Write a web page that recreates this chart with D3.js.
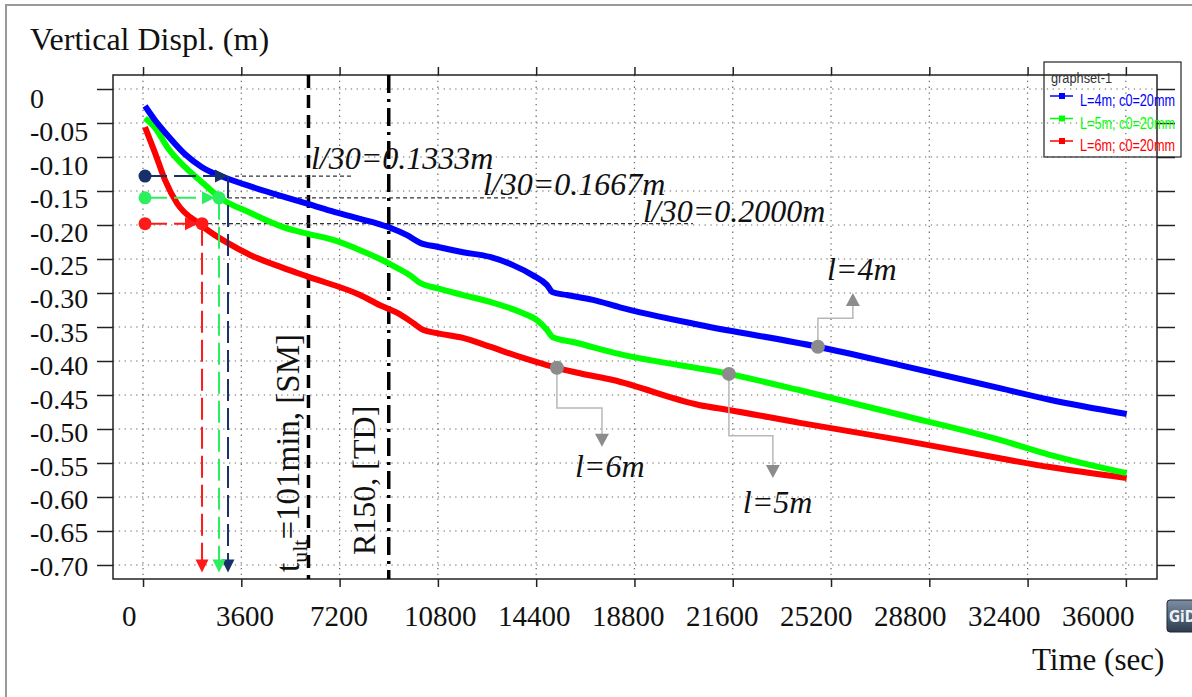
<!DOCTYPE html>
<html>
<head>
<meta charset="utf-8">
<script src="https://cdn.jsdelivr.net/npm/d3@7"></script>
<style>
  body { margin: 0; background: #fff; }
  svg { display: block; }
</style>
</head>
<body>
<svg width="1192" height="697"></svg>
<script>
// ---- data ----
const timeTicks = [0, 3600, 7200, 10800, 14400, 18000, 21600, 25200, 28800, 32400, 36000];
const timeLabels = ["0", "3600", "7200", "10800", "14400", "18800", "21600", "25200", "28800", "32400", "36000"];
const displTicks = [0, -0.05, -0.10, -0.15, -0.20, -0.25, -0.30, -0.35, -0.40, -0.45, -0.50, -0.55, -0.60, -0.65, -0.70];
const displLabels = ["0", "-0.05", "-0.10", "-0.15", "-0.20", "-0.25", "-0.30", "-0.35", "-0.40", "-0.45", "-0.50", "-0.55", "-0.60", "-0.65", "-0.70"];

const seriesNames = ["L=4m; c0=20mm", "L=5m; c0=20mm", "L=6m; c0=20mm"];

// [time (sec), vertical displacement (m)]
const l4m = [[73,-0.025],[439,-0.046],[916,-0.069],[1540,-0.096],[2160,-0.115],[3110,-0.132],[3990,-0.144],
  [5200,-0.159],[6040,-0.169],[7030,-0.181],[7950,-0.191],[8680,-0.199],[9050,-0.204],[9670,-0.215],
  [10140,-0.226],[10770,-0.232],[11720,-0.240],[12710,-0.247],[13550,-0.259],[14280,-0.274],[14790,-0.288],
  [15010,-0.299],[15530,-0.303],[16480,-0.310],[17470,-0.321],[20400,-0.347],[24720,-0.379],[27720,-0.406],
  [31380,-0.440],[33210,-0.457],[36030,-0.478]];
const l5m = [[73,-0.043],[439,-0.057],[916,-0.087],[1540,-0.115],[2160,-0.137],[2820,-0.160],[3920,-0.182],
  [5130,-0.203],[6040,-0.213],[6960,-0.222],[7950,-0.237],[8680,-0.250],[9300,-0.263],[9780,-0.274],
  [10140,-0.285],[10770,-0.293],[11720,-0.303],[12710,-0.313],[13810,-0.328],[14430,-0.340],[14790,-0.354],
  [15010,-0.365],[15750,-0.372],[17470,-0.390],[21460,-0.419],[24060,-0.443],[27720,-0.479],[31380,-0.516],
  [33210,-0.538],[36030,-0.565]];
const l6m = [[73,-0.056],[439,-0.094],[806,-0.134],[1245,-0.168],[2090,-0.199],[2450,-0.210],[3080,-0.226],
  [3920,-0.244],[5130,-0.263],[6040,-0.276],[7950,-0.303],[8680,-0.318],[9300,-0.329],[9890,-0.344],
  [10250,-0.354],[10770,-0.359],[11720,-0.366],[12710,-0.379],[13810,-0.394],[14790,-0.406],[15160,-0.410],
  [16000,-0.418],[17210,-0.428],[20400,-0.465],[21460,-0.472],[24060,-0.491],[27720,-0.516],[31380,-0.543],
  [33210,-0.556],[36030,-0.572]];

const seriesColors = ["#0000ff", "#00ff00", "#ff0000"];

// l/30 criteria: reached displacement, arrow hit time, text anchor
const criteria = [
  {label: "l/30=0.1333m", v: -0.128, hit: 3113, lineFrom: 3369, lineTo: 7654, textT: 6150, textV: -0.1176, color: "#17306a", ring: false},
  {label: "l/30=0.1667m", v: -0.160, hit: 2783, lineFrom: 3113, lineTo: 13733, textT: 12451, textV: -0.156, color: "#2bef5f", ring: true},
  {label: "l/30=0.2000m", v: -0.198, hit: 2161, lineFrom: 2380, lineTo: 20141, textT: 18310, textV: -0.1956, color: "#ff1a1a", ring: true}
];
const critStart = 73;
const critBottom = -0.711;

// gray callouts
const callouts = [
  {label: "l=6m", dot: [15160, -0.410], bendV: -0.469, bendT: 16810, tipV: -0.526, textT: 15820, textV: -0.571},
  {label: "l=5m", dot: [21460, -0.419], bendV: -0.510, bendT: 23070, tipV: -0.572, textT: 21970, textV: -0.624},
  {label: "l=4m", dot: [24720, -0.379], bendV: -0.337, bendT: 26000, tipV: -0.300, textT: 25050, textV: -0.281}
];

const tUlt = 6060;   // 101 min
const tR150 = 9000;  // 150 min

// ---- chart ----
const svg = d3.select("svg");
const serif = "'Liberation Serif', 'Times New Roman', serif";
const sans = "'Liberation Sans', Arial, sans-serif";

const x = d3.scaleLinear().domain([-1100, 37140]).range([113, 1157]);
const y = d3.scaleLinear().domain([0.0206, -0.7206]).range([75, 579]);
const xLab = d3.scaleLinear().domain([0, timeLabels.length - 1]).range([122, 1062]);
const yLab = d3.scaleLinear().domain([0, displLabels.length - 1]).range([98, 566]);

// outer frame
svg.append("rect").attr("x", 6).attr("y", 5).attr("width", 1200).attr("height", 700)
  .attr("fill", "none").attr("stroke", "#9a9a9a").attr("stroke-width", 2);

// grid
const grid = svg.append("g").attr("stroke", "#666").attr("stroke-width", 1.2).attr("stroke-dasharray", "1.3,4.5");
grid.selectAll(".gx").data(timeTicks).enter().append("line")
  .attr("x1", d => x(d)).attr("x2", d => x(d)).attr("y1", 75).attr("y2", 579);
grid.selectAll(".gy").data(displTicks).enter().append("line")
  .attr("x1", 113).attr("x2", 1157).attr("y1", d => y(d)).attr("y2", d => y(d));

// axes (ticks only)
function ticksOnly(g) {
  g.select(".domain").remove();
  g.selectAll("text").remove();
  g.selectAll("line").attr("stroke", "#222").attr("stroke-width", 1.5);
}
svg.append("g").attr("transform", "translate(113,0)")
  .call(d3.axisLeft(y).tickValues(displTicks).tickSize(16)).call(ticksOnly);
svg.append("g").attr("transform", "translate(1157,0)")
  .call(d3.axisRight(y).tickValues(displTicks).tickSize(18)).call(ticksOnly);
svg.append("g").attr("transform", "translate(0,75)")
  .call(d3.axisTop(x).tickValues(timeTicks).tickSize(8)).call(ticksOnly);
svg.append("g").attr("transform", "translate(0,579)")
  .call(d3.axisBottom(x).tickValues(timeTicks).tickSize(8)).call(ticksOnly);

svg.append("rect").attr("x", 113).attr("y", 75).attr("width", 1157 - 113).attr("height", 579 - 75)
  .attr("fill", "none").attr("stroke", "#222").attr("stroke-width", 1.5);

// tick labels
svg.append("g").selectAll("text").data(displLabels).enter().append("text")
  .attr("x", 30).attr("y", (d, i) => yLab(i)).attr("dy", "0.35em")
  .attr("font-family", serif).attr("font-size", 28).attr("fill", "#111")
  .text(d => d);
svg.append("g").selectAll("text").data(timeLabels).enter().append("text")
  .attr("x", (d, i) => xLab(i)).attr("y", 626)
  .attr("font-family", serif).attr("font-size", 29).attr("fill", "#111")
  .text(d => d);

// axis titles
svg.append("text").attr("x", 30).attr("y", 50).attr("font-family", serif).attr("font-size", 32)
  .attr("fill", "#111").text("Vertical Displ. (m)");
svg.append("text").attr("x", 1032).attr("y", 670).attr("font-family", serif).attr("font-size", 31)
  .attr("fill", "#111").text("Time (sec)");

// vertical reference lines
svg.append("line").attr("x1", x(tUlt)).attr("x2", x(tUlt)).attr("y1", 75).attr("y2", 579)
  .attr("stroke", "#000").attr("stroke-width", 3.5).attr("stroke-dasharray", "13,7");
svg.append("line").attr("x1", x(tR150)).attr("x2", x(tR150)).attr("y1", 75).attr("y2", 579)
  .attr("stroke", "#000").attr("stroke-width", 3.5).attr("stroke-dasharray", "18,6,3,6");

const tult = svg.append("text")
  .attr("transform", `translate(${x(tUlt) - 9},572) rotate(-90)`)
  .attr("font-family", serif).attr("font-size", 33).attr("fill", "#111");
tult.append("tspan").text("t");
tult.append("tspan").attr("font-size", 22).attr("dy", 8).text("ult");
tult.append("tspan").attr("dy", -8).text("=101min, [SM]");

svg.append("text")
  .attr("transform", `translate(${x(tR150) - 14},555) rotate(-90)`)
  .attr("font-family", serif).attr("font-size", 32).attr("fill", "#111")
  .text("R150, [TD]");

// criterion threshold lines (thin dashed black)
svg.append("g").selectAll("line").data(criteria).enter().append("line")
  .attr("x1", d => x(d.lineFrom)).attr("x2", d => x(d.lineTo))
  .attr("y1", d => y(d.v)).attr("y2", d => y(d.v))
  .attr("stroke", "#333").attr("stroke-width", 1.2).attr("stroke-dasharray", "4,3");

// curves
const line = d3.line().x(d => x(d[0])).y(d => y(d[1])).curve(d3.curveMonotoneX);
const seriesData = [l4m, l5m, l6m];
svg.append("g").selectAll("path").data(seriesData.slice().reverse()).enter().append("path")
  .attr("d", line).attr("fill", "none")
  .attr("stroke", (d, i) => seriesColors.slice().reverse()[i])
  .attr("stroke-width", 6).attr("stroke-linejoin", "round");

// arrow helper
function arrowHead(g, tx, ty, dir, color, len, half) {
  let pts;
  if (dir === "right") pts = [[tx, ty], [tx - len, ty - half], [tx - len, ty + half]];
  else if (dir === "down") pts = [[tx, ty], [tx - half, ty - len], [tx + half, ty - len]];
  else pts = [[tx, ty], [tx - half, ty + len], [tx + half, ty + len]];
  g.append("polygon").attr("points", pts.map(p => p.join(",")).join(" ")).attr("fill", color);
}

// criterion arrows
criteria.forEach(c => {
  const g = svg.append("g");
  const tipX = c.ring ? x(c.hit) - 4 : x(c.hit);
  g.append("line").attr("x1", x(critStart)).attr("x2", tipX - 8).attr("y1", y(c.v)).attr("y2", y(c.v))
    .attr("stroke", c.color).attr("stroke-width", 2).attr("stroke-dasharray", "22,7");
  arrowHead(g, tipX, y(c.v), "right", c.color, 13, 6.5);
  g.append("line").attr("x1", x(c.hit)).attr("x2", x(c.hit)).attr("y1", y(c.v)).attr("y2", y(critBottom) - 10)
    .attr("stroke", c.color).attr("stroke-width", 2).attr("stroke-dasharray", "22,7");
  arrowHead(g, x(c.hit), y(critBottom), "down", c.color, 13, 6.5);
  g.append("circle").attr("cx", x(critStart)).attr("cy", y(c.v)).attr("r", 6.5).attr("fill", c.color);
  if (c.ring) g.append("circle").attr("cx", x(c.hit)).attr("cy", y(c.v)).attr("r", 6.5).attr("fill", c.color);
  svg.append("text").attr("x", x(c.textT)).attr("y", y(c.textV))
    .attr("font-family", serif).attr("font-style", "italic").attr("font-size", 32).attr("fill", "#111")
    .text(c.label);
});

// gray callouts
callouts.forEach(c => {
  const g = svg.append("g");
  const up = c.tipV > c.dot[1];
  const headBase = y(c.tipV) + (up ? 12 : -12);
  g.append("path")
    .attr("d", `M${x(c.dot[0])},${y(c.dot[1])}V${y(c.bendV)}H${x(c.bendT)}V${headBase}`)
    .attr("fill", "none").attr("stroke", "#b8b8b8").attr("stroke-width", 1.5);
  arrowHead(g, x(c.bendT), y(c.tipV), up ? "up" : "down", "#8c8c8c", 13, 7);
  g.append("circle").attr("cx", x(c.dot[0])).attr("cy", y(c.dot[1])).attr("r", 7).attr("fill", "#8c8c8c");
  g.append("text").attr("x", x(c.textT)).attr("y", y(c.textV))
    .attr("font-family", serif).attr("font-style", "italic").attr("font-size", 32).attr("fill", "#111")
    .text(c.label);
});

// legend
const legend = svg.append("g");
legend.append("rect").attr("x", 1044).attr("y", 62).attr("width", 137).attr("height", 95)
  .attr("fill", "none").attr("stroke", "#222").attr("stroke-width", 1.2);
legend.append("text").attr("x", 1051).attr("y", 83).attr("font-family", sans).attr("font-size", 14)
  .attr("textLength", 61).attr("lengthAdjust", "spacingAndGlyphs").attr("fill", "#333").text("graphset-1");
const entries = legend.selectAll(".entry").data(seriesNames).enter().append("g")
  .attr("transform", (d, i) => `translate(0,${96 + i * 22.5})`);
entries.append("line").attr("x1", 1050).attr("x2", 1073).attr("y1", 0).attr("y2", 0)
  .attr("stroke", (d, i) => seriesColors[i]).attr("stroke-width", 1.5);
entries.append("rect").attr("x", 1059).attr("y", -3).attr("width", 6).attr("height", 6)
  .attr("fill", (d, i) => seriesColors[i]);
entries.append("text").attr("x", 1080).attr("y", 10).attr("font-family", sans).attr("font-size", 16)
  .attr("textLength", 95).attr("lengthAdjust", "spacingAndGlyphs")
  .attr("fill", (d, i) => seriesColors[i]).text(d => d);

// GiD logo
const defs = svg.append("defs");
const grad = defs.append("linearGradient").attr("id", "gid").attr("x1", 0).attr("y1", 0).attr("x2", 0).attr("y2", 1);
grad.append("stop").attr("offset", "0%").attr("stop-color", "#7d8ea3");
grad.append("stop").attr("offset", "100%").attr("stop-color", "#2e3b4e");
svg.append("rect").attr("x", 1167).attr("y", 600).attr("width", 30).attr("height", 32).attr("rx", 3)
  .attr("fill", "url(#gid)").attr("stroke", "#1e2838");
svg.append("text").attr("x", 1169).attr("y", 622).attr("font-family", "'DejaVu Sans Condensed', 'DejaVu Sans', sans-serif")
  .attr("font-weight", "bold").attr("font-size", 15).attr("fill", "#eef2f7").text("GiD");
</script>
</body>
</html>
